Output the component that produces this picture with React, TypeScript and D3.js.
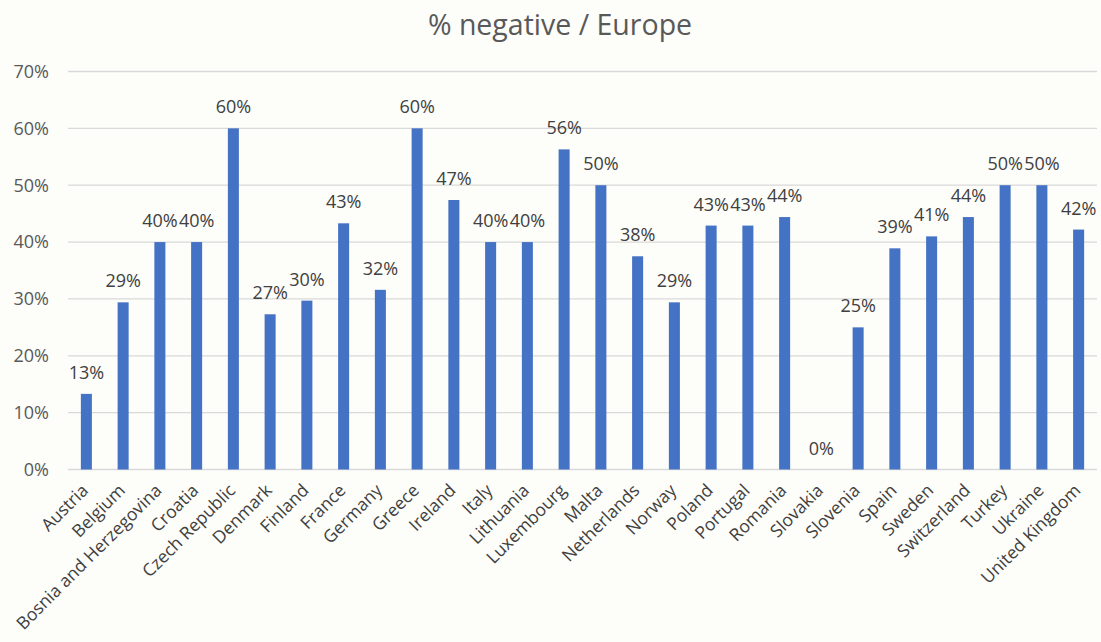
import React from "react";
import * as d3 from "d3";

const categories = ["Austria","Belgium","Bosnia and Herzegovina","Croatia","Czech Republic","Denmark","Finland","France","Germany","Greece","Ireland","Italy","Lithuania","Luxembourg","Malta","Netherlands","Norway","Poland","Portugal","Romania","Slovakia","Slovenia","Spain","Sweden","Switzerland","Turkey","Ukraine","United Kingdom"];
const values = [0.133,0.294,0.40,0.40,0.60,0.273,0.297,0.433,0.316,0.60,0.474,0.40,0.40,0.563,0.50,0.375,0.294,0.429,0.429,0.444,0,0.25,0.389,0.41,0.444,0.50,0.50,0.422];
const yTicks = [0,0.1,0.2,0.3,0.4,0.5,0.6,0.7];

const W = 1101, H = 642;
const left = 68, right = 1097, top = 71.5, bottom = 469.5;

export default function App() {
  const x = d3.scaleBand().domain(categories).range([left, right]).paddingInner(0.7).paddingOuter(0.35);
  const y = d3.scaleLinear().domain([0, 0.7]).range([bottom, top]);
  const fmt = d3.format(".0%");
  const font = "'Open Sans', sans-serif";
  return (
    <svg width={W} height={H} style={{ position: "absolute", left: 0, top: 0, background: "#FDFDFA" }} fontFamily={font}>
      <rect x={0} y={0} width={W} height={H} fill="#FDFDFA" />
      <text x={560} y={35} textAnchor="middle" fontSize={28.5} fill="#595959">% negative / Europe</text>
      {yTicks.map((t) => (
        <g key={t}>
          <line x1={left} x2={right} y1={y(t)} y2={y(t)} stroke="#D9D9D9" strokeWidth={1.3} />
          <text x={49} y={y(t)} dy="0.35em" textAnchor="end" fontSize={18} fill="#595959">{fmt(t)}</text>
        </g>
      ))}
      {categories.map((c, i) => {
        const cx = (x(c) as number) + x.bandwidth() / 2;
        return (
          <g key={c}>
            <rect x={x(c)} y={y(values[i])} width={x.bandwidth()} height={bottom - y(values[i])} fill="#4472C4" />
            <text x={cx} y={y(values[i]) - 15} textAnchor="middle" fontSize={18} fill="#404040">{fmt(values[i])}</text>
            <text transform={`translate(${cx + 3},${bottom + 22}) rotate(-45)`} textAnchor="end" fontSize={17.5} fill="#404040">{c}</text>
          </g>
        );
      })}
    </svg>
  );
}
